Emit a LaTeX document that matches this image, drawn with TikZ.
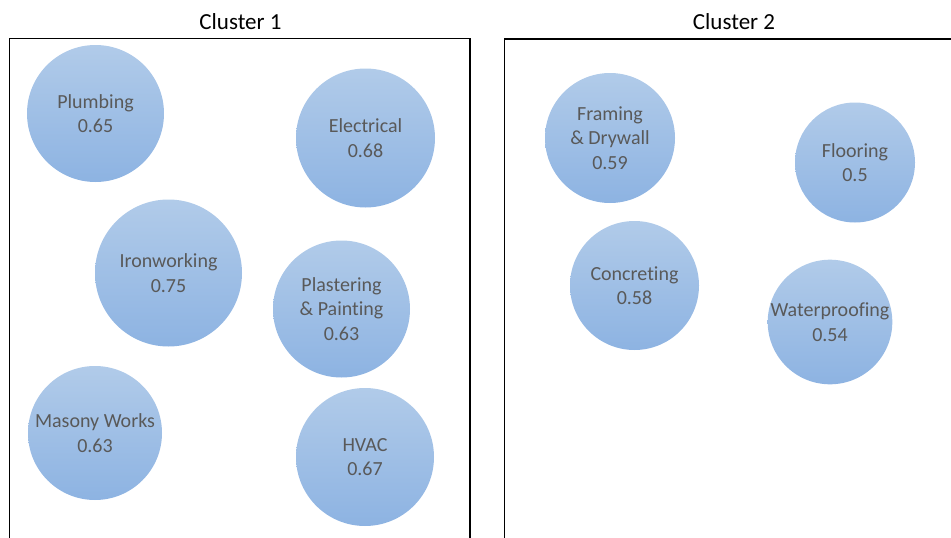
\documentclass[tikz,border=0pt]{standalone}
\usepackage{fontspec}
\setmainfont{Carlito}[Ligatures=NoCommon]
\begin{document}
\begin{tikzpicture}[x=1pt,y=-1pt,
  bubble/.style={circle, inner sep=0pt, align=center, text=bubbletext,
    top color=bubbletop, bottom color=bubblebottom, draw=none,
    font=\fontsize{20}{24.5}\selectfont},
  clusterbox/.style={draw=black, line width=1.3pt},
  clustertitle/.style={font=\fontsize{23}{27}\selectfont, text=black}]
\definecolor{bubbletop}{HTML}{B1CBE9}
\definecolor{bubblebottom}{HTML}{8DB3E2}
\definecolor{bubbletext}{HTML}{595959}
\useasboundingbox (0,0) rectangle (951,538);

% cluster frames, open at the bottom and on the right
\draw[clusterbox] (9.5,545) -- (9.5,38.5) -- (470,38.5) -- (470,545);
\draw[clusterbox] (504.5,545) -- (504.5,39) -- (960,39);
\node[clustertitle] (t1) at (240.5,22) {Cluster 1};
\node[clustertitle] (t2) at (734,22) {Cluster 2};

% cluster 1
\node[bubble, minimum size=137] (plumb) at (95.5,113.5) {Plumbing\\0.65};
\node[bubble, minimum size=139] (elec) at (365.5,138) {Electrical\\0.68};
\node[bubble, minimum size=147] (iron) at (168.5,273) {Ironworking\\0.75};
\node[bubble, minimum size=137] (plast) at (341.5,309) {Plastering\\\&~Painting\\0.63};
\node[bubble, minimum size=134] (mason) at (95,433) {Masony Works\\0.63};
\node[bubble, minimum size=138] (hvac) at (365,457) {HVAC\\0.67};

% cluster 2
\node[bubble, minimum size=130] (frame) at (610,138) {Framing\\\&~Drywall\\0.59};
\node[bubble, minimum size=120] (floor) at (855,162.5) {Flooring\\0.5};
\node[bubble, minimum size=129] (conc) at (634.5,285.5) {Concreting\\0.58};
\node[bubble, minimum size=124] (water) at (830,322) {Waterproofing\\0.54};
\end{tikzpicture}
\end{document}
